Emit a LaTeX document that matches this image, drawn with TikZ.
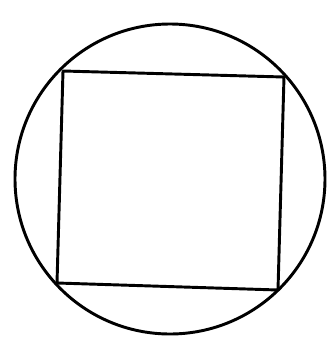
\documentclass[tikz,border=0pt]{standalone}
\usepackage{tikz}
\usetikzlibrary{calc}

\begin{document}
\begin{tikzpicture}[
  x=0.75pt, y=-0.75pt,
  outline/.style={draw=black, line width=2.2pt, line join=round},
]
  \useasboundingbox (0,0) rectangle (329,340);

  \coordinate (centre) at (170,179);
  \coordinate (tl) at (63,71);
  \coordinate (tr) at (284,77);
  \coordinate (br) at (278,290);
  \coordinate (bl) at (57,283);

  \draw[outline] (centre) circle[radius=155];
  \draw[outline] (tl) -- (tr) -- (br) -- (bl) -- cycle;
\end{tikzpicture}
\end{document}
